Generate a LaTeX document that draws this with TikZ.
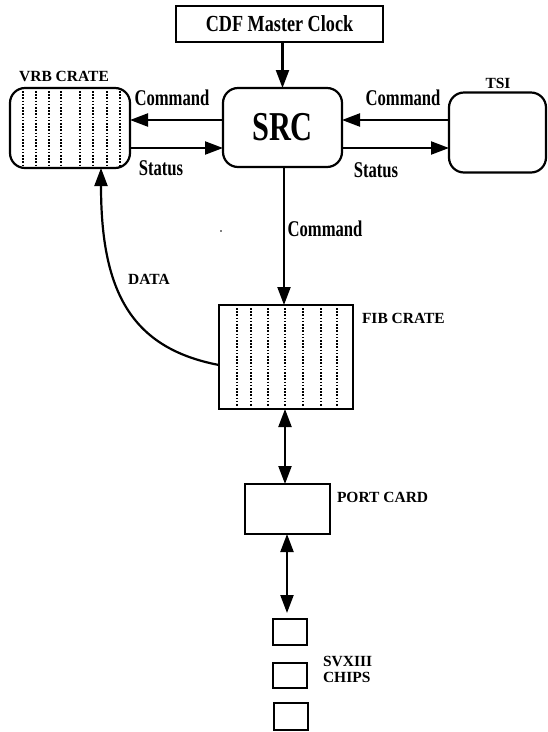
\documentclass[tikz,border=0pt]{standalone}
\usepackage{fontspec}
\usepackage{graphicx}
\setmainfont{Liberation Serif}
\usetikzlibrary{arrows.meta,calc}
\newcommand\condtxt[3][0.74]{\scalebox{#1}[1]{\fontsize{#2}{#2}\selectfont\bfseries #3}}
\newcommand\smalltxt[1]{{\fontsize{15.5}{16}\selectfont\bfseries #1}}
\tikzset{
  box/.style={draw, line width=2.2pt, inner sep=0pt, outer sep=0pt},
  rbox/.style={box, rounded corners=15pt},
  arr/.style={line width=2.2pt, -{Triangle[length=18pt,width=13pt]}},
  dbl/.style={line width=2.2pt, {Triangle[length=18pt,width=13pt]}-{Triangle[length=18pt,width=13pt]}},
  dots/.style={line width=1.7pt, dash pattern=on 1.6pt off 1.6pt},
  lbl/.style={inner sep=0pt, outer sep=0pt},
}
\begin{document}
\begin{tikzpicture}[x=1pt,y=-1pt]
\useasboundingbox (0,0) rectangle (548,732);
% nodes
\node[box, minimum width=207pt, minimum height=36pt] (clock) at (279.5,24) {\condtxt[0.79]{23}{CDF Master Clock}};
\node[rbox, minimum width=119pt, minimum height=79pt] (src) at (282.5,127.5) {\condtxt{41}{SRC}};
\node[rbox, minimum width=120pt, minimum height=80pt] (vrb) at (70,128) {};
\node[rbox, minimum width=97pt, minimum height=80pt] (tsi) at (497.5,132.5) {};
\node[box, minimum width=134pt, minimum height=104pt] (fib) at (286,357) {};
\node[box, minimum width=85pt, minimum height=50pt] (port) at (287.5,509) {};
\node[box, minimum width=34pt, minimum height=26pt] (chipa) at (290,632) {};
\node[box, minimum width=34pt, minimum height=25pt] (chipb) at (290,675.5) {};
\node[box, minimum width=34pt, minimum height=27pt] (chipc) at (291,716.5) {};
% dotted slots
\foreach \xx in {23,36,49,61,80,93,107,120}
  \draw[dots] ($(\xx,0 |- vrb.north)+(0,3)$) -- ($(\xx,0 |- vrb.south)+(0,-3)$);
\foreach \xx in {237,251,268,285,303,321,337}
  \draw[dots] ($(\xx,0 |- fib.north)+(0,3)$) -- ($(\xx,0 |- fib.south)+(0,-3)$);
% labels
\node[lbl] (lvrb) at (64,76) {\smalltxt{VRB CRATE}};
\node[lbl] (ltsi) at (498,83) {\smalltxt{TSI}};
\node[lbl, anchor=west] (lfib) at (362,318) {\smalltxt{FIB CRATE}};
\node[lbl, anchor=west] (lport) at (337,497) {\smalltxt{PORT CARD}};
\node[lbl] (ldata) at (149,279) {\smalltxt{DATA}};
\node[lbl, anchor=north west, align=left, font=\fontsize{15.5}{16}\selectfont\bfseries] (lchips) at (323,656) {SVXIII\\CHIPS};
\node[lbl] (lcmdl) at (172,98) {\condtxt{22.5}{Command}};
\node[lbl] (lstal) at (161,168) {\condtxt{22.5}{Status}};
\node[lbl] (lcmdr) at (403,98) {\condtxt{22.5}{Command}};
\node[lbl] (lstar) at (376,170) {\condtxt{22.5}{Status}};
\node[lbl] (lcmdv) at (325,229) {\condtxt{22.5}{Command}};
% connectors
\draw[arr] (src.north |- clock.south) -- (src.north);
\draw[arr] (src.west |- 0,120) -- (vrb.east |- 0,120);
\draw[arr] (vrb.east |- 0,148) -- (src.west |- 0,148);
\draw[arr] (tsi.west |- 0,120) -- (src.east |- 0,120);
\draw[arr] (src.east |- 0,148) -- (tsi.west |- 0,148);
\draw[arr] (284,0 |- src.south) -- (284,0 |- fib.north);
\draw[arr] (fib.west |- 0,365) .. controls (130,348) and (101,290) .. (101,0 |- vrb.south);
\draw[dbl] (285,0 |- fib.south) -- (285,0 |- port.north);
\draw[dbl] (287,0 |- port.south) -- (287,613);
\fill (221,231) circle (0.8pt);
\end{tikzpicture}
\end{document}
